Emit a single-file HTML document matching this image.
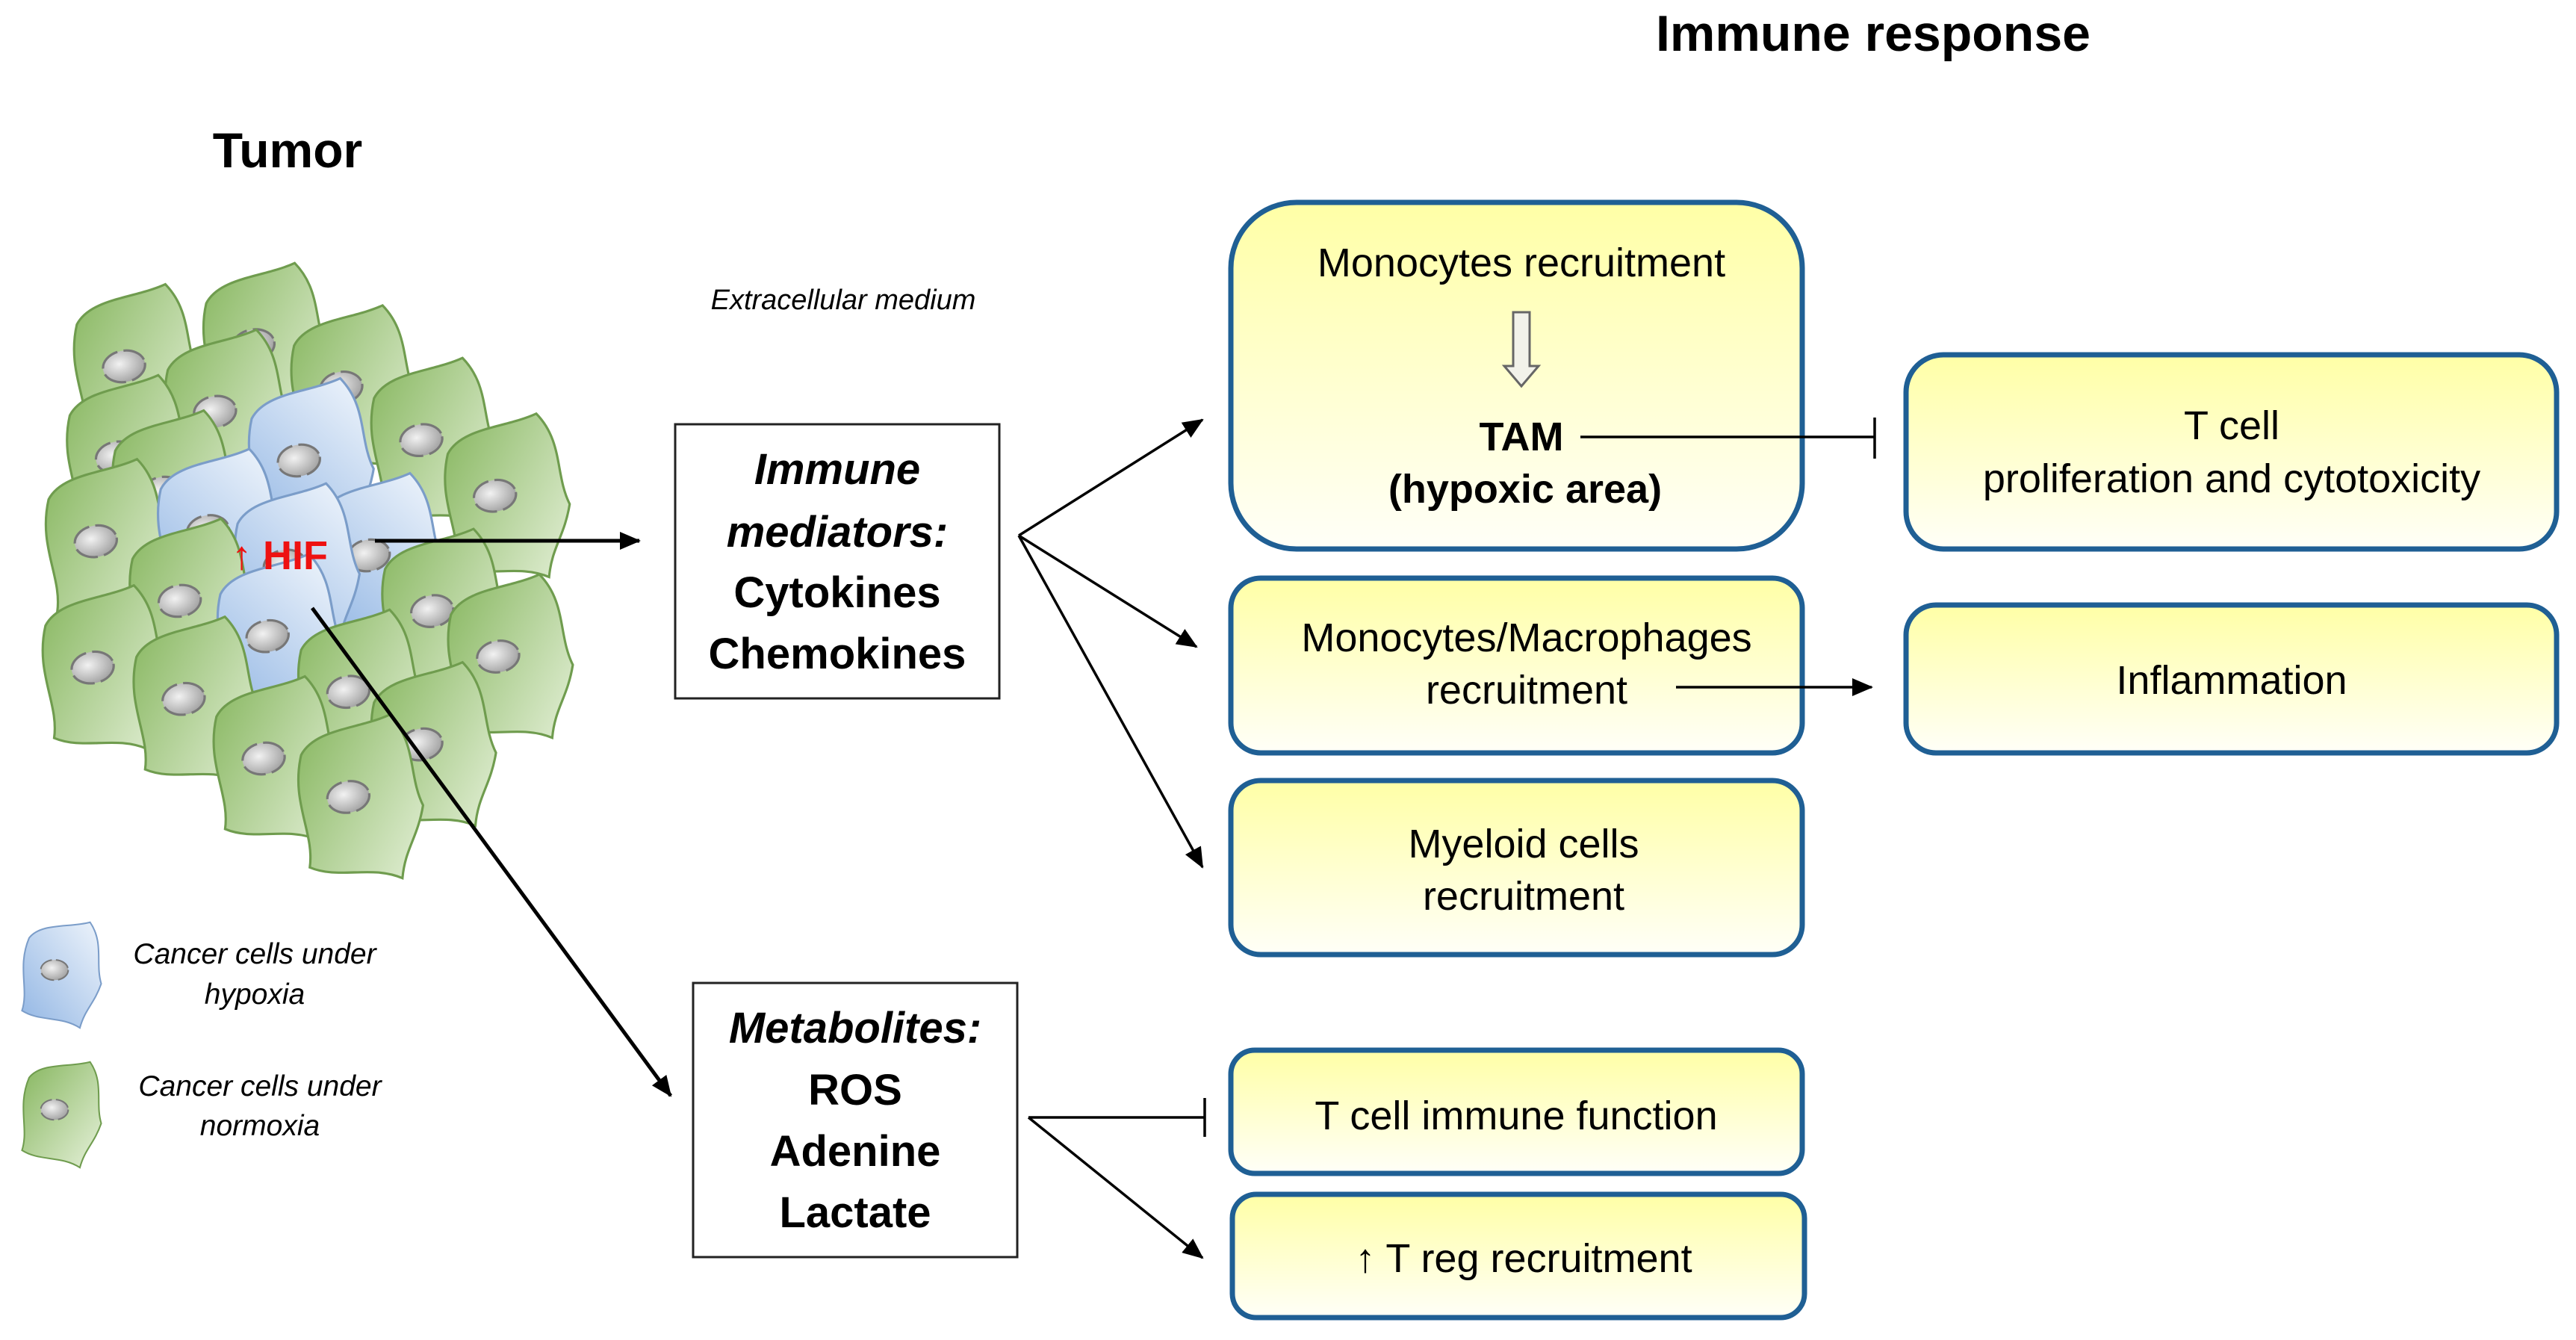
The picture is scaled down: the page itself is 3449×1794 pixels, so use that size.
<!DOCTYPE html>
<html><head><meta charset="utf-8"><style>
html,body{margin:0;padding:0;background:#fff;}
svg{display:block;}
text{font-family:"Liberation Sans",sans-serif;}
</style></head><body>
<svg width="3449" height="1794" viewBox="0 0 3449 1794" xmlns="http://www.w3.org/2000/svg">
<defs>
<linearGradient id="gg" x1="0" y1="0" x2="1" y2="1"><stop offset="0" stop-color="#86b65e"/><stop offset="1" stop-color="#e6f1da"/></linearGradient>
<linearGradient id="bg" x1="0" y1="1" x2="1" y2="0"><stop offset="0" stop-color="#92b6e4"/><stop offset="1" stop-color="#eef4fb"/></linearGradient>
<linearGradient id="yg" x1="0" y1="0" x2="0" y2="1"><stop offset="0" stop-color="#ffffa6"/><stop offset="1" stop-color="#fffff8"/></linearGradient>
<radialGradient id="ng" cx="0.4" cy="0.4" r="0.7"><stop offset="0" stop-color="#f2f2f2"/><stop offset="1" stop-color="#9a9a9a"/></radialGradient>
<path id="cell" d="M22,35 C45,5 100,15 142,4 C170,45 152,85 164,125 C150,165 132,175 122,212 C85,188 42,200 8,178 C22,135 -2,92 22,35 Z"/>
<g id="nuc"><ellipse cx="72" cy="98" rx="27" ry="20" fill="url(#ng)" stroke="#777" stroke-width="3" stroke-dasharray="30 8"/></g>
<marker id="ahb" markerWidth="28" markerHeight="24" refX="26" refY="12" orient="auto" markerUnits="userSpaceOnUse"><path d="M0,0 L28,12 L0,24 Z" fill="#000"/></marker>
</defs>

<text x="2508" y="68" font-size="68" font-weight="bold" text-anchor="middle">Immune response</text>
<text x="385" y="224" font-size="66" font-weight="bold" text-anchor="middle">Tumor</text>
<text x="1129" y="414" font-size="38" font-style="italic" text-anchor="middle">Extracellular medium</text>

<!-- tumor cells -->
<g stroke-width="3" transform="translate(55,363) scale(1.05) translate(-55,-374)">
<g fill="url(#gg)" stroke="#6f9c4e">
<g transform="translate(89,396) rotate(-10,80,100)"><use href="#cell"/><use href="#nuc"/></g>
<g transform="translate(254,369) rotate(-10,80,100)"><use href="#cell"/><use href="#nuc"/></g>
<g transform="translate(366,423) rotate(-10,80,100)"><use href="#cell"/><use href="#nuc"/></g>
<g transform="translate(205,454) rotate(-10,80,100)"><use href="#cell"/><use href="#nuc"/></g>
<g transform="translate(80,512) rotate(-10,80,100)"><use href="#cell"/><use href="#nuc"/></g>
<g transform="translate(468,490) rotate(-10,80,100)"><use href="#cell"/><use href="#nuc"/></g>
<g transform="translate(138,557) rotate(-10,80,100)"><use href="#cell"/><use href="#nuc"/></g>
<g transform="translate(562,561) rotate(-10,80,100)"><use href="#cell"/><use href="#nuc"/></g>
<g transform="translate(53,619) rotate(-10,80,100)"><use href="#cell"/><use href="#nuc"/></g>
</g>
<g fill="url(#bg)" stroke="#7b9dc9">
<g transform="translate(312,516) rotate(-10,80,100)"><use href="#cell"/><use href="#nuc"/></g>
<g transform="translate(196,606) rotate(-10,80,100)"><use href="#cell"/><use href="#nuc"/></g>
<g transform="translate(401,637) rotate(-10,80,100)"><use href="#cell"/><use href="#nuc"/></g>
<g transform="translate(294,650) rotate(-10,80,100)"><use href="#cell"/><use href="#nuc"/></g>
</g>
<g fill="url(#gg)" stroke="#6f9c4e">
<g transform="translate(160,695) rotate(-10,80,100)"><use href="#cell"/><use href="#nuc"/></g>
<g transform="translate(482,708) rotate(-10,80,100)"><use href="#cell"/><use href="#nuc"/></g>
<g transform="translate(566,766) rotate(-10,80,100)"><use href="#cell"/><use href="#nuc"/></g>
<g transform="translate(49,780) rotate(-10,80,100)"><use href="#cell"/><use href="#nuc"/></g>
</g>
<g fill="url(#bg)" stroke="#7b9dc9">
<g transform="translate(272,740) rotate(-10,80,100)"><use href="#cell"/><use href="#nuc"/></g>
</g>
<g fill="url(#gg)" stroke="#6f9c4e">
<g transform="translate(165,820) rotate(-10,80,100)"><use href="#cell"/><use href="#nuc"/></g>
<g transform="translate(375,811) rotate(-10,80,100)"><use href="#cell"/><use href="#nuc"/></g>
<g transform="translate(468,878) rotate(-10,80,100)"><use href="#cell"/><use href="#nuc"/></g>
<g transform="translate(267,896) rotate(-10,80,100)"><use href="#cell"/><use href="#nuc"/></g>
<g transform="translate(375,945) rotate(-10,80,100)"><use href="#cell"/><use href="#nuc"/></g>
</g>
</g>
<text x="310" y="762" font-size="54" font-weight="bold" fill="#ee1111">↑ HIF</text>

<!-- legend -->
<g stroke-width="3">
<g transform="translate(24,1232) scale(0.68)" fill="url(#bg)" stroke="#7b9dc9"><use href="#cell"/><use href="#nuc"/></g>
<g transform="translate(24,1419) scale(0.68)" fill="url(#gg)" stroke="#6f9c4e"><use href="#cell"/><use href="#nuc"/></g>
</g>
<g font-size="39" font-style="italic" text-anchor="middle">
<text x="341" y="1290">Cancer cells under</text>
<text x="341" y="1344">hypoxia</text>
<text x="348" y="1467">Cancer cells under</text>
<text x="348" y="1520">normoxia</text>
</g>

<!-- left boxes -->
<rect x="904" y="568" width="434" height="367" fill="#fff" stroke="#222" stroke-width="3"/>
<g font-size="58" font-weight="bold" text-anchor="middle">
<text x="1121" y="648" font-style="italic">Immune</text>
<text x="1121" y="732" font-style="italic">mediators:</text>
<text x="1121" y="813">Cytokines</text>
<text x="1121" y="895">Chemokines</text>
</g>
<rect x="928" y="1316" width="434" height="367" fill="#fff" stroke="#222" stroke-width="3"/>
<g font-size="58" font-weight="bold" text-anchor="middle">
<text x="1145" y="1396" font-style="italic">Metabolites:</text>
<text x="1145" y="1479">ROS</text>
<text x="1145" y="1561">Adenine</text>
<text x="1145" y="1643">Lactate</text>
</g>

<!-- yellow boxes -->
<g fill="url(#yg)" stroke="#1f5f94" stroke-width="7">
<rect x="1648" y="271" width="765" height="464" rx="88"/>
<rect x="2552" y="475" width="871" height="260" rx="50"/>
<rect x="1648" y="774" width="765" height="234" rx="40"/>
<rect x="2552" y="810" width="871" height="198" rx="40"/>
<rect x="1648" y="1045" width="765" height="233" rx="40"/>
<rect x="1648" y="1406" width="765" height="165" rx="32"/>
<rect x="1650" y="1599" width="766" height="165" rx="32"/>
</g>
<g font-size="54" text-anchor="middle">
<text x="2037" y="370">Monocytes recruitment</text>
<text x="2037" y="603" font-weight="bold">TAM</text>
<text x="2042" y="673" font-weight="bold">(hypoxic area)</text>
<text x="2988" y="588">T cell</text>
<text x="2988" y="659">proliferation and cytotoxicity</text>
<text x="2044" y="872">Monocytes/Macrophages</text>
<text x="2044" y="942">recruitment</text>
<text x="2988" y="929">Inflammation</text>
<text x="2040" y="1148">Myeloid cells</text>
<text x="2040" y="1218">recruitment</text>
<text x="2030" y="1512">T cell immune  function</text>
<text x="2040" y="1703">↑ T reg recruitment</text>
</g>
<!-- hollow arrow -->
<path d="M2026,418 L2048,418 L2048,490 L2060,490 L2037,517 L2014,490 L2026,490 Z" fill="#f2f2ea" stroke="#666" stroke-width="3"/>

<!-- connectors -->
<g stroke="#000" fill="none">
<line x1="502" y1="724" x2="856" y2="724" stroke-width="5" marker-end="url(#ahb)"/>
<line x1="418" y1="814" x2="898" y2="1467" stroke-width="5" marker-end="url(#ahb)"/>
<g stroke-width="3.5">
<line x1="1364" y1="717" x2="1610" y2="562" marker-end="url(#ahb)"/>
<line x1="1364" y1="717" x2="1602" y2="866" marker-end="url(#ahb)"/>
<line x1="1364" y1="717" x2="1610" y2="1161" marker-end="url(#ahb)"/>
<line x1="1377" y1="1496" x2="1613" y2="1496"/>
<line x1="1613" y1="1470" x2="1613" y2="1522"/>
<line x1="1377" y1="1496" x2="1610" y2="1684" marker-end="url(#ahb)"/>
<line x1="2116" y1="585" x2="2510" y2="585"/>
<line x1="2510" y1="559" x2="2510" y2="614"/>
<line x1="2244" y1="920" x2="2506" y2="920" marker-end="url(#ahb)"/>
</g>
</g>
</svg>
</body></html>
